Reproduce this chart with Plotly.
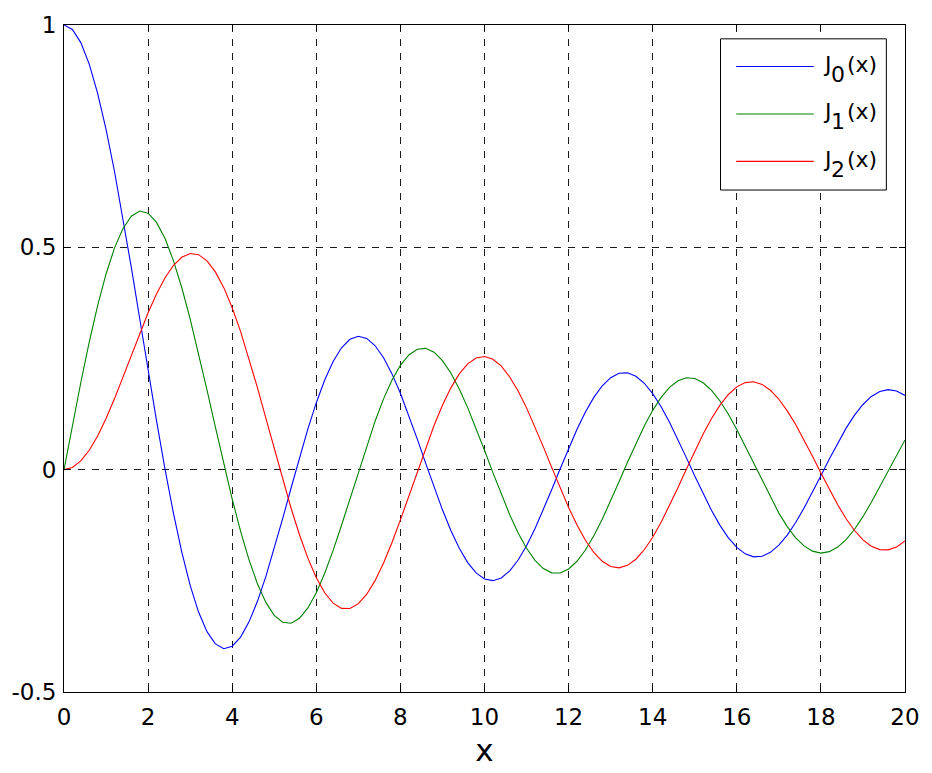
import plotly.graph_objects as go

# ---------------- data ----------------
x_vals = [0.0, 0.2, 0.4, 0.6, 0.8, 1.0, 1.2, 1.4, 1.6, 1.8,
          2.0, 2.2, 2.4, 2.6, 2.8, 3.0, 3.2, 3.4, 3.6, 3.8,
          4.0, 4.2, 4.4, 4.6, 4.8, 5.0, 5.2, 5.4, 5.6, 5.8,
          6.0, 6.2, 6.4, 6.6, 6.8, 7.0, 7.2, 7.4, 7.6, 7.8,
          8.0, 8.2, 8.4, 8.6, 8.8, 9.0, 9.2, 9.4, 9.6, 9.8,
          10.0, 10.2, 10.4, 10.6, 10.8, 11.0, 11.2, 11.4, 11.6, 11.8,
          12.0, 12.2, 12.4, 12.6, 12.8, 13.0, 13.2, 13.4, 13.6, 13.8,
          14.0, 14.2, 14.4, 14.6, 14.8, 15.0, 15.2, 15.4, 15.6, 15.8,
          16.0, 16.2, 16.4, 16.6, 16.8, 17.0, 17.2, 17.4, 17.6, 17.8,
          18.0, 18.2, 18.4, 18.6, 18.8, 19.0, 19.2, 19.4, 19.6, 19.8,
          20.0]

j0_vals = [1.0000, 0.9900, 0.9604, 0.9120, 0.8463, 0.7652, 0.6711, 0.5669, 0.4554, 0.3400,
           0.2239, 0.1104, 0.0025, -0.0968, -0.1850, -0.2601, -0.3202, -0.3643, -0.3918, -0.4026,
           -0.3971, -0.3766, -0.3423, -0.2961, -0.2404, -0.1776, -0.1103, -0.0412, 0.0270, 0.0917,
           0.1506, 0.2017, 0.2433, 0.2740, 0.2931, 0.3001, 0.2951, 0.2786, 0.2516, 0.2154,
           0.1717, 0.1222, 0.0692, 0.0146, -0.0392, -0.0903, -0.1367, -0.1768, -0.2090, -0.2323,
           -0.2459, -0.2496, -0.2434, -0.2276, -0.2032, -0.1712, -0.1330, -0.0902, -0.0446, 0.0020,
           0.0477, 0.0908, 0.1295, 0.1626, 0.1887, 0.2069, 0.2167, 0.2177, 0.2101, 0.1943,
           0.1711, 0.1414, 0.1065, 0.0679, 0.0271, -0.0142, -0.0544, -0.0919, -0.1253, -0.1533,
           -0.1749, -0.1893, -0.1960, -0.1948, -0.1860, -0.1699, -0.1472, -0.1190, -0.0861, -0.0506,
           -0.0134, 0.0240, 0.0599, 0.0934, 0.1226, 0.1466, 0.1646, 0.1758, 0.1800, 0.1770,
           0.1670]

j1_vals = [0.0000, 0.0995, 0.1960, 0.2867, 0.3688, 0.4401, 0.4983, 0.5419, 0.5699, 0.5815,
           0.5767, 0.5560, 0.5202, 0.4708, 0.4097, 0.3391, 0.2613, 0.1792, 0.0955, 0.0128,
           -0.0660, -0.1386, -0.2028, -0.2566, -0.2985, -0.3276, -0.3432, -0.3453, -0.3343, -0.3110,
           -0.2767, -0.2329, -0.1816, -0.1250, -0.0652, -0.0047, 0.0543, 0.1096, 0.1592, 0.2014,
           0.2346, 0.2580, 0.2708, 0.2728, 0.2641, 0.2453, 0.2174, 0.1816, 0.1395, 0.0928,
           0.0435, -0.0066, -0.0553, -0.1013, -0.1422, -0.1768, -0.2038, -0.2224, -0.2320, -0.2323,
           -0.2234, -0.2060, -0.1808, -0.1487, -0.1114, -0.0703, -0.0271, 0.0165, 0.0590, 0.0984,
           0.1334, 0.1626, 0.1850, 0.1998, 0.2066, 0.2051, 0.1955, 0.1784, 0.1544, 0.1247,
           0.0904, 0.0530, 0.0140, -0.0253, -0.0629, -0.0977, -0.1281, -0.1532, -0.1715, -0.1832,
           -0.1876, -0.1844, -0.1740, -0.1572, -0.1340, -0.1057, -0.0735, -0.0388, -0.0028, 0.0328,
           0.0668]

j2_vals = [0.0000, 0.0050, 0.0197, 0.0437, 0.0758, 0.1149, 0.1593, 0.2074, 0.2570, 0.3061,
           0.3528, 0.3951, 0.4310, 0.4590, 0.4777, 0.4861, 0.4835, 0.4697, 0.4448, 0.4093,
           0.3641, 0.3105, 0.2501, 0.1846, 0.1161, 0.0466, -0.0217, -0.0867, -0.1464, -0.1990,
           -0.2429, -0.2769, -0.3001, -0.3119, -0.3123, -0.3014, -0.2800, -0.2490, -0.2097, -0.1638,
           -0.1130, -0.0593, -0.0047, 0.0488, 0.0992, 0.1448, 0.1840, 0.2154, 0.2380, 0.2512,
           0.2546, 0.2483, 0.2327, 0.2085, 0.1769, 0.1390, 0.0966, 0.0513, 0.0046, -0.0413,
           -0.0849, -0.1245, -0.1586, -0.1862, -0.2061, -0.2177, -0.2208, -0.2152, -0.2014, -0.1801,
           -0.1520, -0.1185, -0.0808, -0.0405, 0.0008, 0.0416, 0.0801, 0.1150, 0.1451, 0.1691,
           0.1862, 0.1958, 0.1977, 0.1918, 0.1785, 0.1584, 0.1323, 0.1014, 0.0667, 0.0300,
           -0.0075, -0.0442, -0.0788, -0.1103, -0.1368, -0.1578, -0.1722, -0.1798, -0.1803, -0.1737,
           -0.1603]

series_base = ["J", "J", "J"]
series_sub = ["0", "1", "2"]
series_suffix = ["(x)", "(x)", "(x)"]
series_values = [j0_vals, j1_vals, j2_vals]
series_colors = ["#0000ff", "#008000", "#ff0000"]

x_ticks = [0, 2, 4, 6, 8, 10, 12, 14, 16, 18, 20]
x_ticktext = ["0", "2", "4", "6", "8", "10", "12", "14", "16", "18", "20"]
y_ticks = [-0.5, 0, 0.5, 1]
y_ticktext = ["-0.5", "0", "0.5", "1"]
x_title = "x"

# ---------------- layout geometry ----------------
W, H = 932, 773
ML, MR, MT, MB = 59, 16, 19, 79
PW, PH = W - ML - MR, H - MT - MB


def px_x(p):
    return (p - ML) / PW


def px_y(p):
    return (H - MB - p) / PH


TICK_FONT = dict(family="DejaVu Sans", size=23, color="#000000")
LEG_FONT = dict(family="DejaVu Sans", size=22, color="#000000")

fig = go.Figure()
for i in range(3):
    fig.add_trace(go.Scatter(
        x=x_vals, y=series_values[i], mode="lines",
        name=series_base[i] + series_sub[i] + series_suffix[i],
        line=dict(color=series_colors[i], width=1.1),
        showlegend=False,
    ))

axis_common = dict(
    showline=True, linecolor="#000000", linewidth=1, mirror="ticks",
    ticks="inside", ticklen=6, tickwidth=1, tickcolor="#000000",
    showgrid=True, gridcolor="#1a1a1a", gridwidth=1, griddash="7px,7px",
    zeroline=False, tickfont=TICK_FONT,
)

fig.update_xaxes(range=[0, 20], tickvals=x_ticks, ticktext=x_ticktext,
                 ticklabelstandoff=4,
                 title=dict(text=x_title, font=dict(family="DejaVu Sans", size=31, color="#000000"),
                            standoff=10),
                 **axis_common)
fig.update_yaxes(range=[-0.5, 1], tickvals=y_ticks, ticktext=y_ticktext,
                 ticklabelstandoff=2, **axis_common)

# ---------------- legend (MATLAB style box) ----------------
shapes = [dict(type="rect", xref="paper", yref="paper",
               x0=px_x(728), x1=px_x(897), y0=px_y(186), y1=px_y(33),
               line=dict(color="#000000", width=1), fillcolor="#ffffff", layer="above")]
annotations = []
entry_y = [61, 109, 157]
for i in range(3):
    ly = entry_y[i]
    shapes.append(dict(type="line", xref="paper", yref="paper",
                       x0=px_x(744), x1=px_x(823), y0=px_y(ly), y1=px_y(ly),
                       line=dict(color=series_colors[i], width=1.1), layer="above"))
    annotations.append(dict(xref="paper", yref="paper", x=px_x(831), y=px_y(ly - 2),
                            xanchor="left", yanchor="middle", showarrow=False,
                            borderpad=0, text=series_base[i], font=LEG_FONT))
    annotations.append(dict(xref="paper", yref="paper", x=px_x(840), y=px_y(ly + 8),
                            xanchor="left", yanchor="middle", showarrow=False,
                            borderpad=0, text=series_sub[i], font=LEG_FONT))
    annotations.append(dict(xref="paper", yref="paper", x=px_x(856), y=px_y(ly - 2),
                            xanchor="left", yanchor="middle", showarrow=False,
                            borderpad=0, text=series_suffix[i], font=LEG_FONT))

fig.update_layout(
    width=W, height=H,
    margin=dict(l=ML, r=MR, t=MT, b=MB, pad=0),
    paper_bgcolor="#ffffff", plot_bgcolor="#ffffff",
    shapes=shapes, annotations=annotations,
    showlegend=False,
)

fig.write_html(
    "out.html",
    config={"displayModeBar": False},
    post_script="document.body.style.margin='0';"
                "document.body.style.padding='0';"
                "document.documentElement.style.overflow='hidden';",
)
